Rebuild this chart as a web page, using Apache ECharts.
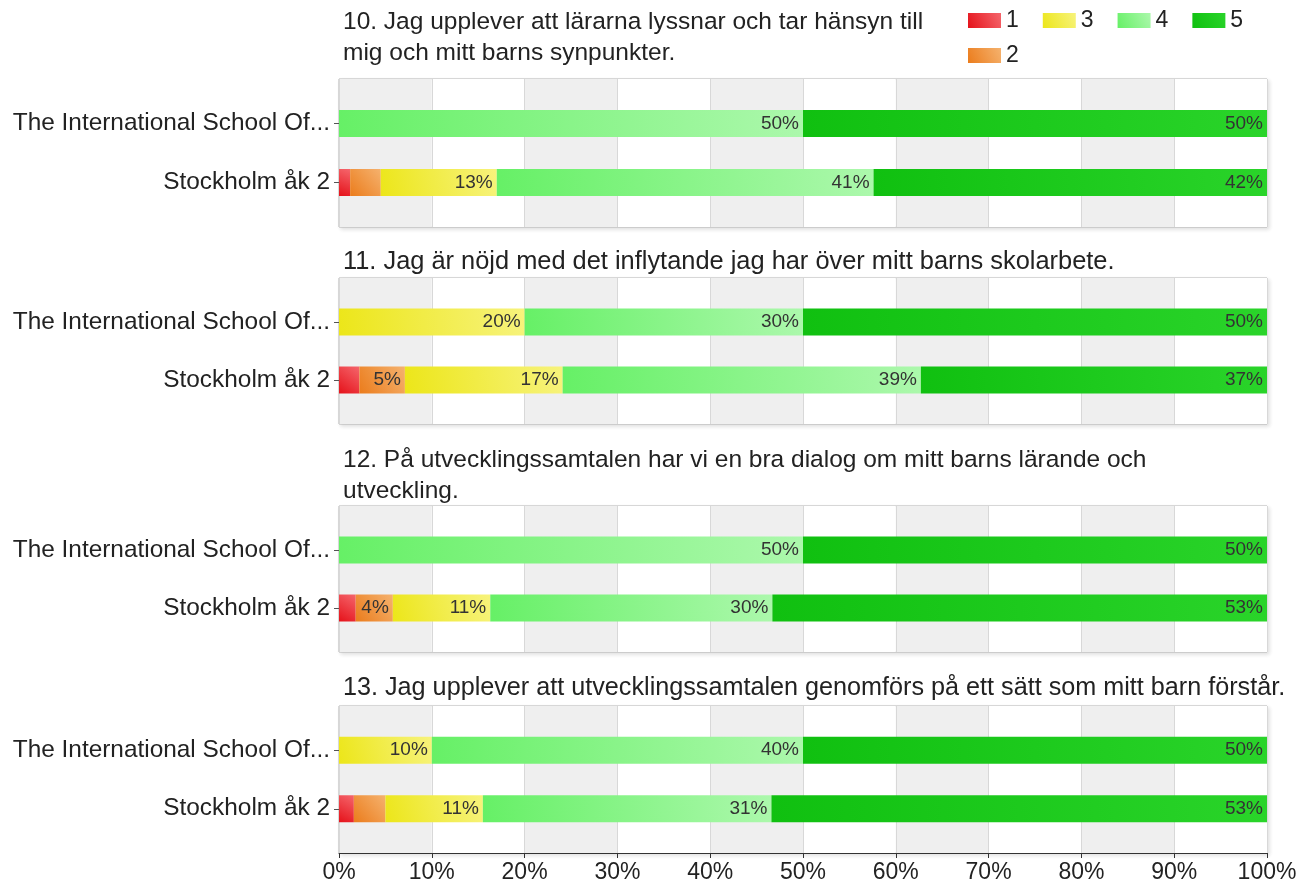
<!DOCTYPE html>
<html>
<head>
<meta charset="utf-8">
<script src="https://cdn.jsdelivr.net/npm/echarts@6/dist/echarts.min.js"></script>
<style>
  html, body { margin: 0; padding: 0; background: #fff; }
  #main { width: 1300px; height: 888px; }
</style>
</head>
<body>
<div id="main"></div>
<script>
// kategorier och frågor
const categories = ["The International School Of...", "Stockholm åk 2"];
const answerNames = ["1", "2", "3", "4", "5"];
const xTicks = [0, 10, 20, 30, 40, 50, 60, 70, 80, 90, 100];
const questions = [
  "10. Jag upplever att lärarna lyssnar och tar hänsyn till\nmig och mitt barns synpunkter.",
  "11. Jag är nöjd med det inflytande jag har över mitt barns skolarbete.",
  "12. På utvecklingssamtalen har vi en bra dialog om mitt barns lärande och\nutveckling.",
  "13. Jag upplever att utvecklingssamtalen genomförs på ett sätt som mitt barn förstår.",
];

// andel (%) per svar 1..5
const q10Intl = [0, 0, 0, 50, 50];
const q10Sthlm = [1.2, 3.3, 12.5, 40.6, 42.4];
const q11Intl = [0, 0, 20, 30, 50];
const q11Sthlm = [2.2, 4.9, 17.0, 38.6, 37.3];
const q12Intl = [0, 0, 0, 50, 50];
const q12Sthlm = [1.8, 4.0, 10.5, 30.4, 53.3];
const q13Intl = [0, 0, 10, 40, 50];
const q13Sthlm = [1.6, 3.4, 10.5, 31.1, 53.4];

const panelData = [
  [q10Intl, q10Sthlm],
  [q11Intl, q11Sthlm],
  [q12Intl, q12Sthlm],
  [q13Intl, q13Sthlm],
];

// layout för varje panel (ram)
const panels = [
  { top: 79, height: 148, titleTop: 7, titleSize: 24.5 },
  { top: 278, height: 146, titleTop: 246, titleSize: 25.4 },
  { top: 506, height: 146, titleTop: 445, titleSize: 24.5 },
  { top: 706, height: 147, titleTop: 673, titleSize: 25.2 },
];

const colorPairs = [
  ["#e5121a", "#f5666c"],
  ["#eb7c1c", "#f5b26e"],
  ["#ece619", "#f7f37c"],
  ["#66f066", "#acf8ac"],
  ["#10c010", "#2ad42a"],
];

function grad(i) {
  return new echarts.graphic.LinearGradient(0, 1, 1, 0, [
    { offset: 0, color: colorPairs[i][0] },
    { offset: 1, color: colorPairs[i][1] },
  ]);
}

let chartMain = echarts.init(document.getElementById("main"));

let grid = [];
let xAxis = [];
let yAxis = [];
let series = [];
let title = [];

panels.forEach(function (p, idx) {
  const last = idx === panels.length - 1;
  // bakgrundsram med grå/vita fält
  grid.push({
    left: 339,
    right: 33,
    top: p.top,
    height: p.height,
    show: true,
    borderColor: "#b4b4b4",
    borderWidth: 1,
    backgroundColor: "#fff",
    shadowColor: "rgba(0,0,0,0.12)",
    shadowBlur: 4,
    shadowOffsetX: 2,
    shadowOffsetY: 2,
  });
  xAxis.push({
    type: "value",
    gridIndex: idx * 2,
    min: xTicks[0],
    max: xTicks[xTicks.length - 1],
    interval: 10,
    axisLine: { show: last, lineStyle: { color: "#333", width: 1 } },
    axisTick: { show: last, length: 5, lineStyle: { color: "#333" } },
    axisLabel: {
      show: last,
      formatter: "{value}%",
      fontSize: 23,
      color: "#222",
      margin: 8,
      fontFamily: "Liberation Sans, Arial",
    },
    splitLine: { show: true, lineStyle: { color: "#d8d8d8" } },
    splitArea: { show: true, areaStyle: { color: ["#efefef", "#ffffff"] } },
  });
  yAxis.push({ type: "value", gridIndex: idx * 2, show: false, min: 0, max: 1 });

  // datagrid
  grid.push({ left: 339, right: 33, top: p.top + 15, height: p.height - 30 });
  xAxis.push({
    type: "value",
    gridIndex: idx * 2 + 1,
    min: 0,
    max: 100,
    show: false,
  });
  yAxis.push({
    type: "category",
    gridIndex: idx * 2 + 1,
    inverse: true,
    data: categories,
    axisLine: { show: false },
    axisTick: { show: true, alignWithLabel: true, length: 5, lineStyle: { color: "#555" } },
    axisLabel: {
      fontSize: 24.4,
      color: "#222",
      margin: 9,
      fontFamily: "Liberation Sans, Arial",
    },
  });

  answerNames.forEach(function (name, i) {
    series.push({
      name: name,
      type: "bar",
      stack: "q" + idx,
      xAxisIndex: idx * 2 + 1,
      yAxisIndex: idx * 2 + 1,
      barWidth: 27,
      data: [panelData[idx][0][i], panelData[idx][1][i]],
      itemStyle: { color: grad(i) },
      label: {
        show: true,
        position: "insideRight",
        distance: 4,
        fontSize: 19,
        color: "#333",
        fontFamily: "Liberation Sans, Arial",
        formatter: function (params) {
          return params.value >= 3.8 ? Math.round(params.value) + "%" : "";
        },
      },
    });
  });

  title.push({
    text: questions[idx],
    left: 343,
    top: p.titleTop,
    padding: 0,
    textStyle: {
      fontSize: p.titleSize,
      fontWeight: "normal",
      color: "#222",
      lineHeight: 31,
      fontFamily: "Liberation Sans, Arial",
    },
  });
});

const legendBase = {
  left: 968,
  orient: "horizontal",
  padding: 0,
  icon: "rect",
  itemWidth: 33,
  itemHeight: 15,
  itemGap: 24,
  selectedMode: false,
  textStyle: { fontSize: 23, color: "#222", fontFamily: "Liberation Sans, Arial" },
};

let option = {
  animation: false,
  backgroundColor: "#fff",
  title: title,
  legend: [
    Object.assign({}, legendBase, { data: ["1", "3", "4", "5"], top: 9 }),
    Object.assign({}, legendBase, { data: ["2"], top: 44 }),
  ],
  grid: grid,
  xAxis: xAxis,
  yAxis: yAxis,
  series: series,
};

chartMain && chartMain.setOption(option);
</script>
</body>
</html>
